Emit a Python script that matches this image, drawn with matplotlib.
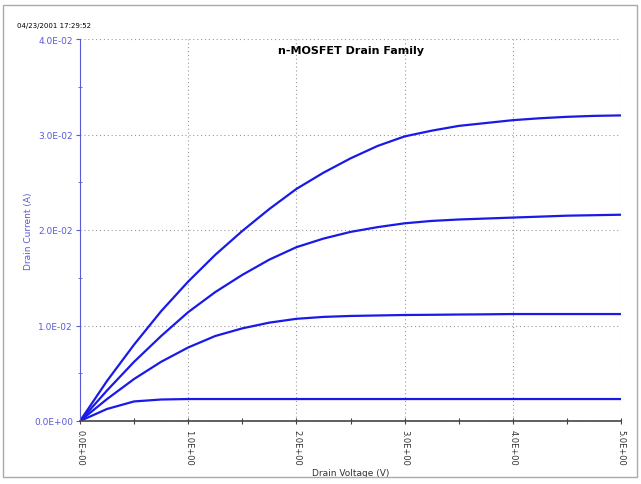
import numpy as np
import matplotlib
matplotlib.use('Agg')
import matplotlib.pyplot as plt
from matplotlib.patches import Rectangle
from matplotlib.ticker import MultipleLocator

# drain voltage steps (V)
vds = [0.0, 0.25, 0.5, 0.75, 1.0, 1.25, 1.5, 1.75, 2.0, 2.25, 2.5,
       2.75, 3.0, 3.25, 3.5, 3.75, 4.0, 4.25, 4.5, 4.75, 5.0]

# drain current per gate step (mA)
id_vg4 = [0, 4.2, 8.0, 11.5, 14.6, 17.4, 19.9, 22.2, 24.3, 26.0, 27.5,
          28.8, 29.8, 30.4, 30.9, 31.2, 31.5, 31.7, 31.85, 31.95, 32.0]
id_vg3 = [0, 3.2, 6.2, 8.9, 11.4, 13.5, 15.3, 16.9, 18.2, 19.1, 19.8,
          20.3, 20.7, 20.95, 21.1, 21.2, 21.3, 21.4, 21.5, 21.55, 21.6]
id_vg2 = [0, 2.3, 4.4, 6.2, 7.7, 8.9, 9.7, 10.3, 10.7, 10.9, 11.0,
          11.05, 11.1, 11.12, 11.15, 11.17, 11.2, 11.2, 11.2, 11.2, 11.2]
id_vg1 = [0, 1.26, 2.05, 2.25, 2.3, 2.3, 2.3, 2.3, 2.3, 2.3, 2.3,
          2.3, 2.3, 2.3, 2.3, 2.3, 2.3, 2.3, 2.3, 2.3, 2.3]

xticks = [0, 1, 2, 3, 4, 5]
xticklabels = ['0.0E+00', '1.0E+00', '2.0E+00', '3.0E+00', '4.0E+00', '5.0E+00']
yticks = [0, 0.01, 0.02, 0.03, 0.04]
yticklabels = ['0.0E+00', '1.0E-02', '2.0E-02', '3.0E-02', '4.0E-02']

axis_blue = '#5a5ad8'
line_blue = '#1a1ae6'

fig = plt.figure(figsize=(6.41, 4.85), dpi=100)
ax = fig.add_axes([80 / 641, 1 - 422 / 485, 541 / 641, 382 / 485])

for curve in (id_vg4, id_vg3, id_vg2, id_vg1):
    ax.plot(vds, np.array(curve) * 1e-3, color=line_blue, lw=1.6)

ax.set_xlim(0, 5)
ax.set_ylim(0, 0.04)
ax.set_xticks(xticks)
ax.set_xticklabels(xticklabels, rotation=-90, fontsize=6, color='#333333')
ax.set_yticks(yticks)
ax.set_yticklabels(yticklabels, fontsize=6.5, color=axis_blue)
ax.xaxis.set_minor_locator(MultipleLocator(0.5))
ax.yaxis.set_minor_locator(MultipleLocator(0.005))
ax.tick_params(axis='x', which='both', direction='inout', length=5, color='#444444', width=0.8, pad=3)
ax.tick_params(axis='y', which='major', direction='out', length=3, color=axis_blue, pad=2)
ax.tick_params(axis='y', which='minor', direction='inout', length=3, color=axis_blue)

ax.grid(True, which='major', linestyle=(0, (1, 2.5)), color='#999999', lw=0.8)
for side in ('top', 'right'):
    ax.spines[side].set_visible(False)
ax.spines['left'].set_color(axis_blue)
ax.spines['bottom'].set_color('#444444')
ax.spines['bottom'].set_linewidth(1.2)

ax.set_xlabel('Drain Voltage (V)', fontsize=6.5, color='#333333')
ax.xaxis.set_label_coords(0.5, (422 - 469) / 382)
ax.set_ylabel('Drain Current (A)', fontsize=6.5, color=axis_blue)
ax.yaxis.set_label_coords((33 - 80) / 541, 0.5)
ax.text(0.5, 0.985, 'n-MOSFET Drain Family', transform=ax.transAxes, ha='center', va='top',
        fontsize=8, fontweight='bold')

fig.text(17 / 641, 1 - 26 / 485, '04/23/2001 17:29:52', fontsize=5, va='center')
fig.patches.append(Rectangle((3 / 641, 7 / 485), 634 / 641, 472 / 485, transform=fig.transFigure,
                             fill=False, edgecolor='#aaaaaa', lw=1))

plt.savefig('out.png', dpi=100)
